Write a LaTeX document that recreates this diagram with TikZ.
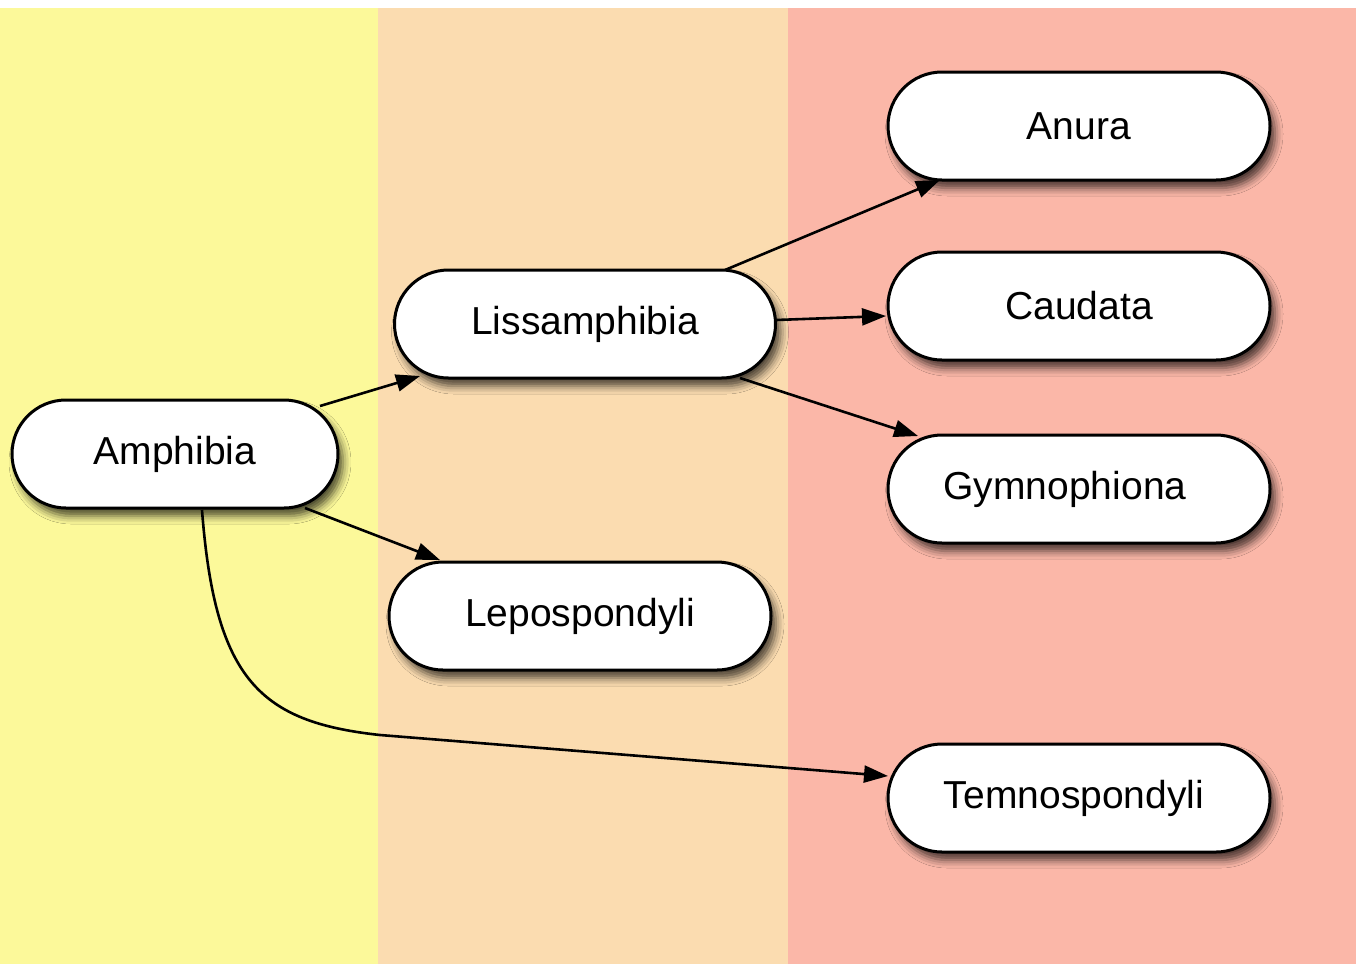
\documentclass[tikz,border=0pt]{standalone}
\usepackage{fontspec}
\setmainfont{Liberation Sans}
\usetikzlibrary{calc,arrows.meta,shadows.blur}
\definecolor{colA}{HTML}{FCF99A}
\definecolor{colB}{HTML}{FBDCB0}
\definecolor{colC}{HTML}{FBB7A8}
\tikzset{
  taxon/.style={draw=black, line width=3pt, fill=white, rectangle, rounded corners=54pt,
    minimum width=382pt, minimum height=108pt, inner sep=0pt,
    font=\fontsize{39}{45}\selectfont,
    blur shadow={shadow xshift=5pt, shadow yshift=-8pt, shadow blur radius=8pt, shadow opacity=70}},
  link/.style={line width=2.6pt, -{Triangle[length=24pt,width=17pt]}}
}
\begin{document}
\begin{tikzpicture}[x=1pt,y=-1pt]
\useasboundingbox (0,0) rectangle (1356,964);
\fill[white] (0,0) rectangle (1356,964);
\fill[colA] (0,8) rectangle (378,964);
\fill[colB] (378,8) rectangle (788,964);
\fill[colC] (788,8) rectangle (1356,964);

\node[taxon, minimum width=326pt] (amph) at (175,454) {Amphibia};
\node[taxon, minimum width=381pt] (liss) at (585,324) {Lissamphibia};
\node[taxon] (lepo) at (580,616) {Lepospondyli};
\node[taxon] (anura) at (1079,126) {Anura};
\node[taxon] (caud) at (1079,306) {Caudata};
\node[taxon] (gymno) at (1079,489) {Gymnophiona\hspace*{28pt}};
\node[taxon] (temno) at (1079,798) {Temnospondyli\hspace*{10pt}};

\draw[link] ($(amph)+(145,-48)$) -- ($(liss)+(-165,52)$);
\draw[link] ($(amph)+(130,54)$) -- ($(lepo)+(-140,-56)$);
\draw[link] ($(amph)+(27,56)$) .. controls (215,680) and (260,722) .. (380,735) -- ($(temno)+(-191,-22)$);
\draw[link] ($(liss)+(140,-54)$) -- ($(anura)+(-139,54)$);
\draw[link] ($(liss)+(191,-4)$) -- ($(caud)+(-193,10)$);
\draw[link] ($(liss)+(155,54)$) -- ($(gymno)+(-161,-53)$);
\end{tikzpicture}
\end{document}
